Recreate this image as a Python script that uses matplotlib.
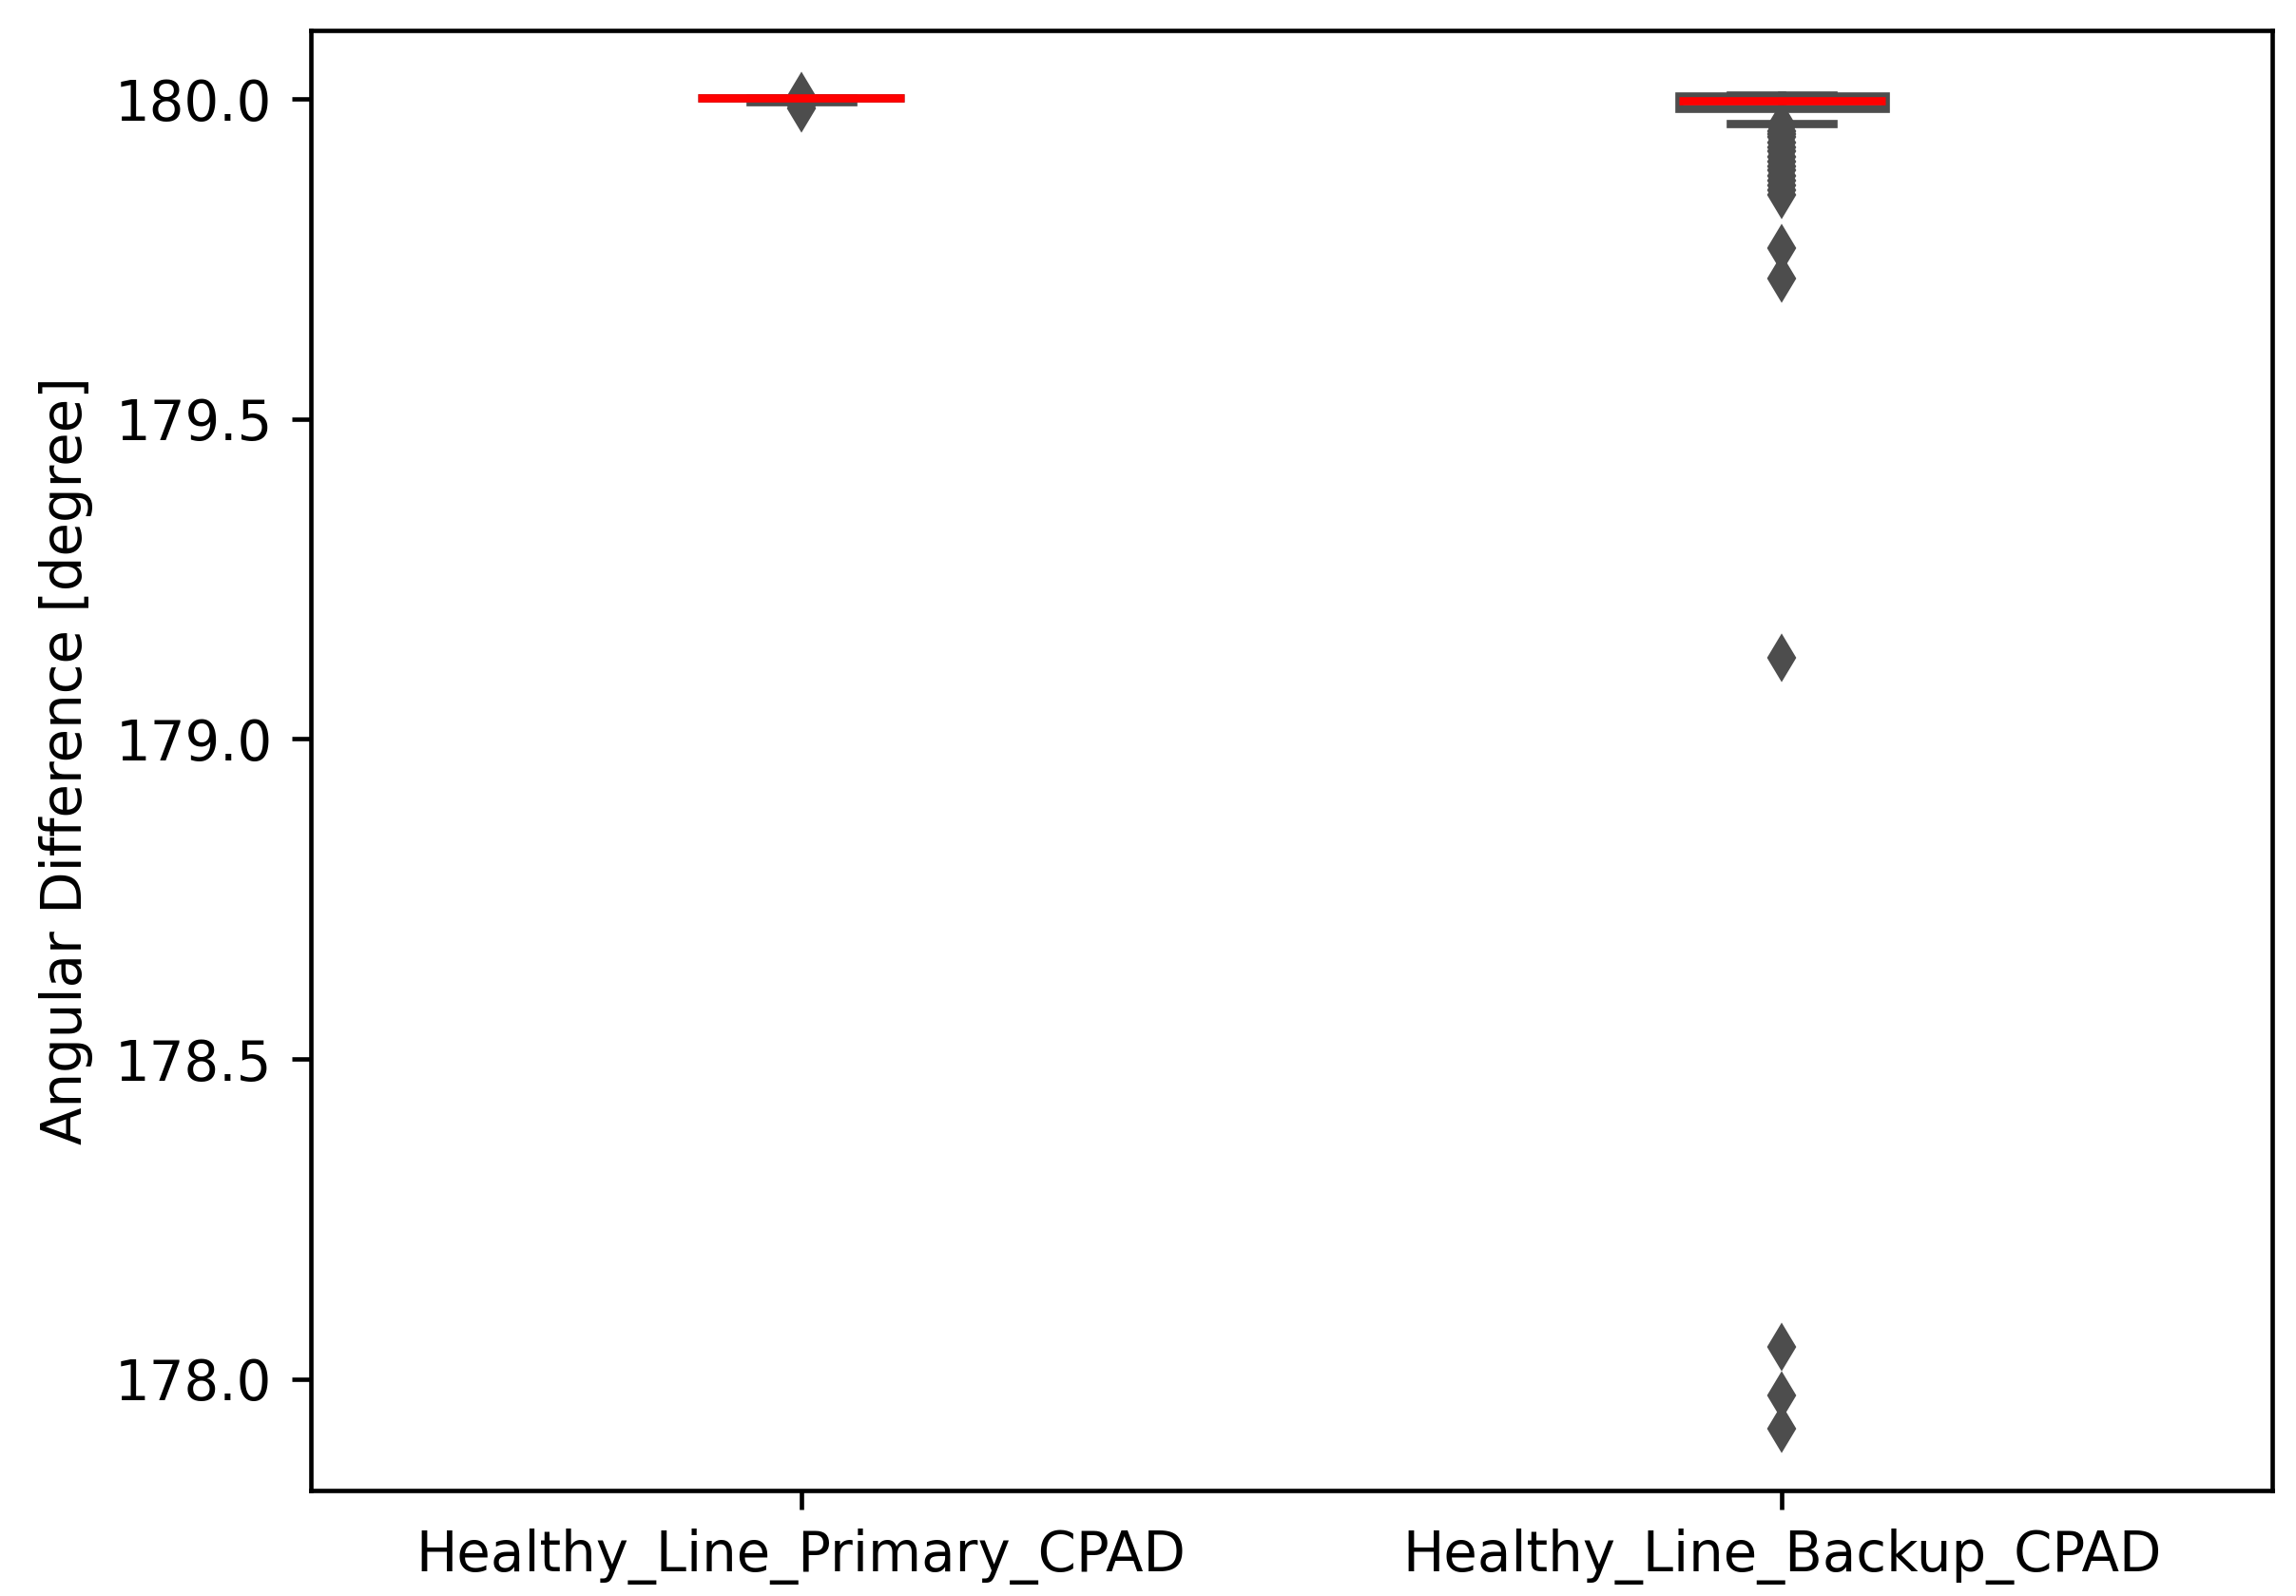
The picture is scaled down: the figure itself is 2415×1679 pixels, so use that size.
import matplotlib
matplotlib.use("Agg")
import matplotlib.pyplot as plt

categories = ["Healthy_Line_Primary_CPAD", "Healthy_Line_Backup_CPAD"]
medians = [180.002, 179.997]
q1s = [180.002, 179.985]
q3s = [180.002, 180.004]
whislo = [179.996, 179.962]
whishi = [180.002, 180.006]
fliers_primary = [179.985, 179.990, 179.995, 180.005]
fliers_backup = [179.958, 179.950, 179.945, 179.940, 179.932, 179.925, 179.918,
                 179.910, 179.902, 179.895, 179.888, 179.880, 179.872, 179.865,
                 179.858, 179.850, 179.767, 179.720, 179.127, 178.050, 177.975,
                 177.922]
fliers = [fliers_primary, fliers_backup]

DPI = 416
fig = plt.figure(figsize=(2415 / DPI, 1679 / DPI), dpi=DPI)
ax = fig.add_axes([327 / 2415, 1 - 1568 / 1679, (2390 - 327) / 2415, (1568 - 32) / 1679])

stats = []
for i, lab in enumerate(categories):
    stats.append(dict(label=lab, med=medians[i], q1=q1s[i], q3=q3s[i],
                      whislo=whislo[i], whishi=whishi[i], fliers=fliers[i]))

gray = "#4d4d4d"
ax.bxp(stats, positions=[0, 1], widths=0.21, patch_artist=True,
       boxprops=dict(facecolor="white", edgecolor=gray, linewidth=1.5),
       whiskerprops=dict(color=gray, linewidth=1.5),
       capprops=dict(color=gray, linewidth=1.5),
       medianprops=dict(color="red", linewidth=1.5),
       flierprops=dict(marker="d", markersize=5, markerfacecolor=gray,
                       markeredgecolor=gray, linestyle="none"))

ax.set_xlim(-0.5, 1.5)
ax.set_ylim(177.826, 180.107)
ax.set_yticks([178.0, 178.5, 179.0, 179.5, 180.0])
ax.set_ylabel("Angular Difference [degree]")
ax.set_xticks([0, 1])
ax.set_xticklabels(categories)

fig.savefig("out.png", dpi=DPI)
